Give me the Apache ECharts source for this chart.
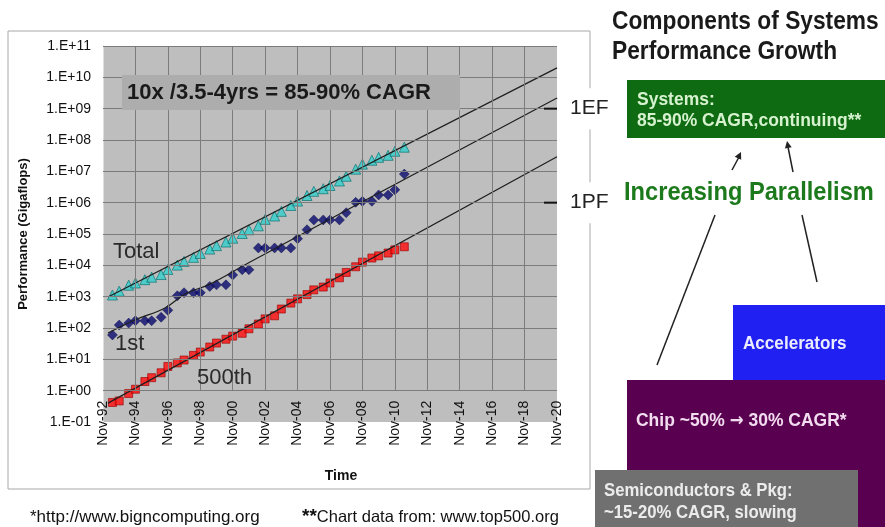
<!DOCTYPE html>
<html><head><meta charset="utf-8">
<script src="https://cdn.jsdelivr.net/npm/echarts@6/dist/echarts.min.js"></script>
<style>html,body{margin:0;padding:0;background:#fff;}#c{width:885px;height:527px;}</style>
</head><body><div id="c"></div>
<script>
// ---- data (TOP500 lists, Gigaflops) ----
const listDates = ['1993-06','1993-11','1994-06','1994-11','1995-06','1995-11','1996-06','1996-11','1997-06','1997-11','1998-06','1998-11','1999-06','1999-11','2000-06','2000-11','2001-06','2001-11','2002-06','2002-11','2003-06','2003-11','2004-06','2004-11','2005-06','2005-11','2006-06','2006-11','2007-06','2007-11','2008-06','2008-11','2009-06','2009-11','2010-06','2010-11','2011-06'];
const totalPerf = [1128,1493,2317,2732,3494,4190,5086,7397,10161,13371,17971,23922,33068,42548,55478,73476,103785,136138,182282,293000,375000,528000,813000,1127000,1690000,2300000,2790000,3540000,4920000,6970000,11700000,16950000,22600000,27950000,32400000,43700000,58900000];
const firstPerf = [59.7,124.2,143.4,170.4,170.4,170.4,220.4,368.2,1068,1338,1338,1338,2121,2379,2379,4938,7226,7226,35860,35860,35860,35860,35860,70720,136800,280600,280600,280600,280600,478200,1026000,1105000,1105000,1759000,1759000,2566000,8162000];
const lastPerf = [0.42,0.47,0.81,1.11,1.96,2.59,3.72,5.92,7.67,9.5,13.39,17.1,24.7,33.1,43.8,55.1,67.8,94.3,134.3,195.8,245.1,403.4,624,850.6,1166,1646,2026,2737,4005,5929,9000,12640,17090,20050,24670,31120,39100];
// trend lines: [years since Nov-92, Gflops]
const trendTotal = [[0.31, 980], [28, 2.0e10]];
const trendFirst = [[0.31, 69], [1.97, 180], [3.82, 437], [5.06, 1216], [6.6, 2520], [9.07, 12800], [28, 2.2e9]];
const trendLast = [[0.31, 0.40], [28, 2.9e7]];
const xTickLabels = ['Nov-92','Nov-94','Nov-96','Nov-98','Nov-00','Nov-02','Nov-04','Nov-06','Nov-08','Nov-10','Nov-12','Nov-14','Nov-16','Nov-18','Nov-20'];
const yTickLabels = ['1.E-01','1.E+00','1.E+01','1.E+02','1.E+03','1.E+04','1.E+05','1.E+06','1.E+07','1.E+08','1.E+09','1.E+10','1.E+11'];
const markerLevels = [['1EF', 1e9], ['1PF', 1e6]];

// ---- helpers ----
const FONT = 'Liberation Sans, Arial, sans-serif';
const startYear = 1992 + 10/12;
function toT(d){ const [y,m] = d.split('-').map(Number); return y + (m-1)/12 - startYear; }
const tVals = listDates.map(toT);
const pairs = arr => arr.map((v,i)=>[tVals[i], v]);
const yTickVals = yTickLabels.map(s => Number(s.replace('.E','e')));
const xMax = (xTickLabels.length-1)*2;

const gridTop = 46, gridBottomPx = 422, gridLeft = 103, gridRight = 557;
const decadePx = (gridBottomPx - gridTop) / (yTickLabels.length - 1);

const vLines = xTickLabels.slice(1, -1).map((_, i) => [{coord:[(i+1)*2, yTickVals[1]]}, {coord:[(i+1)*2, yTickVals[yTickVals.length-1]]}]);
const hLines = yTickVals.slice(1).map(v => [{coord:[0, v]}, {coord:[xMax, v]}]);

const chart = echarts.init(document.getElementById('c'));
const option = {
  animation: false,
  grid: {left: gridLeft, right: 885 - gridRight, top: gridTop, bottom: 527 - gridBottomPx,
         show: true, backgroundColor: '#bebebe', borderWidth: 0},
  xAxis: {
    type: 'value', min: 0, max: xMax, interval: 2, position: 'bottom', offset: -decadePx,
    axisLine: {show: false}, axisTick: {show: false}, splitLine: {show: false},
    axisLabel: {rotate: 90, margin: 10, fontSize: 14, color: '#111', fontFamily: FONT,
      formatter: v => xTickLabels[Math.round(v/2)]},
    name: 'Time', nameLocation: 'middle', nameGap: 78,
    nameTextStyle: {fontSize: 14, fontWeight: 'bold', color: '#111', fontFamily: FONT, padding: [0,0,0,22]}
  },
  yAxis: {
    type: 'log', logBase: 10, min: yTickVals[0], max: yTickVals[yTickVals.length-1], interval: 1, splitNumber: 12,
    axisLine: {show: true, lineStyle: {color: '#dedede', width: 1}}, axisTick: {show: false}, splitLine: {show: false},
    axisLabel: {fontSize: 14, margin: 12, color: '#111', fontFamily: FONT,
      formatter: v => yTickLabels[Math.round(Math.log10(v)) + 1]},
    name: 'Performance (Gigaflops)', nameLocation: 'middle', nameRotate: 90, nameGap: 73,
    nameTextStyle: {fontSize: 13, fontWeight: 'bold', color: '#111', fontFamily: FONT}
  },
  series: [
    {type: 'line', data: [], z: 1, silent: true,
     markLine: {silent: true, symbol: ['none','none'], label: {show: false}, animation: false,
       lineStyle: {color: '#7c7c7c', width: 1, type: 'solid'}, emphasis: {disabled: true},
       data: vLines.concat(hLines)}},
    {name: 'Total', type: 'scatter', data: pairs(totalPerf), symbol: 'triangle', symbolSize: 10, z: 3,
     itemStyle: {color: '#33d0cc', borderColor: '#006a6a', borderWidth: 0.8}},
    {name: '1st', type: 'scatter', data: pairs(firstPerf), symbol: 'diamond', symbolSize: 10, z: 3,
     itemStyle: {color: '#0a0a6e', borderColor: '#000040', borderWidth: 0.5}},
    {name: '500th', type: 'scatter', data: pairs(lastPerf), symbol: 'rect', symbolSize: 8, z: 3,
     itemStyle: {color: '#ff0a0a', borderColor: '#990000', borderWidth: 0.8}},
    {type: 'line', data: trendTotal, showSymbol: false, z: 4, lineStyle: {color: '#1e1e1e', width: 1.2}},
    {type: 'line', data: trendFirst, showSymbol: false, smooth: 0.4, z: 4, lineStyle: {color: '#1e1e1e', width: 1.2}},
    {type: 'line', data: trendLast, showSymbol: false, z: 4, lineStyle: {color: '#1e1e1e', width: 1.2}}
  ]
};
chart.setOption(option);

function txt(x, y, text, font, fill, extra){
  return Object.assign({type: 'text', x: x, y: y, z: 100,
    style: {text: text, font: font, fill: fill, textVerticalAlign: 'middle', verticalAlign: 'middle'}}, extra || {});
}
function line(x1,y1,x2,y2,w,c){ return {type:'line', z: 100, shape:{x1,y1,x2,y2}, style:{stroke:c||'#222', lineWidth:w||1.5}}; }

const g = [];
// outer frame
g.push({type: 'rect', z: 90, shape: {x: 8, y: 31, width: 582, height: 458}, style: {fill: 'none', stroke: '#a8a8a8', lineWidth: 1}});
// annotation box
g.push({type: 'rect', z: 100, shape: {x: 122, y: 75, width: 338, height: 35}, style: {fill: '#adadad'}});
g.push(txt(127, 93, '10x /3.5-4yrs = 85-90% CAGR', 'bold 22px ' + FONT, '#1a1a1a'));
g.push(txt(113, 252, 'Total', '22px ' + FONT, '#2a2a2a'));
g.push(txt(115, 344, '1st', '22px ' + FONT, '#2a2a2a'));
g.push(txt(197, 378, '500th', '22px ' + FONT, '#2a2a2a'));
// 1EF / 1PF
markerLevels.forEach(([lab, v]) => {
  const p = chart.convertToPixel({gridIndex: 0}, [xMax, v]);
  g.push(line(p[0]-13, p[1], p[0], p[1], 2, '#111'));
  g.push({type: 'text', x: 568, y: p[1], z: 100, style: {text: lab, font: '21px ' + FONT, fill: '#222',
    textVerticalAlign: 'middle', verticalAlign: 'middle', backgroundColor: '#fff', padding: [10, 2, 10, 2]}});
});
// right panel
g.push(txt(612, 22, 'Components of Systems', 'bold 25px ' + FONT, '#1a1a1a', {scaleX: 0.91}));
g.push(txt(612, 52, 'Performance Growth', 'bold 25px ' + FONT, '#1a1a1a', {scaleX: 0.91}));
g.push({type: 'rect', z: 95, shape: {x: 627, y: 80, width: 260, height: 58}, style: {fill: '#0f6b12'}});
g.push(txt(637, 100, 'Systems:', 'bold 19px ' + FONT, '#d6f2cf', {scaleX: 0.92}));
g.push(txt(637, 121, '85-90% CAGR,continuing**', 'bold 19px ' + FONT, '#d6f2cf', {scaleX: 0.92}));
g.push(txt(624, 193, 'Increasing Parallelism', 'bold 26px ' + FONT, '#1c7a1c', {scaleX: 0.91}));
g.push(line(732, 170, 739, 157, 1.5));
g.push({type: 'polygon', z: 100, shape: {points: [[741,152],[741.2,159.8],[734.7,156.7]]}, style: {fill: '#222'}});
g.push(line(793, 172, 788, 147, 1.5));
g.push({type: 'polygon', z: 100, shape: {points: [[787,141],[791.7,147.2],[784.9,148.5]]}, style: {fill: '#222'}});
g.push(line(715, 215, 657, 365, 1.5));
g.push(line(802, 215, 817, 282, 1.5));
g.push({type: 'rect', z: 95, shape: {x: 733, y: 305, width: 160, height: 75}, style: {fill: '#2020f2'}});
g.push(txt(743, 344, 'Accelerators', 'bold 19px ' + FONT, '#ececff', {scaleX: 0.9}));
g.push({type: 'rect', z: 95, shape: {x: 627, y: 380, width: 260, height: 150}, style: {fill: '#5a0050'}});
g.push({type: 'text', x: 636, y: 421, z: 100, scaleX: 0.92, style: {
  text: '{t|Chip ~50% }{r|\u2192}{t| 30% CAGR*}', textVerticalAlign: 'middle', verticalAlign: 'middle',
  rich: {t: {font: 'bold 19px ' + FONT, fill: '#f2dcef'}, r: {font: 'bold 18px DejaVu Sans, sans-serif', fill: '#f2dcef'}}}});
g.push({type: 'rect', z: 96, shape: {x: 595, y: 470, width: 263, height: 60}, style: {fill: '#707070'}});
g.push(txt(604, 491, 'Semiconductors & Pkg:', 'bold 19px ' + FONT, '#ececec', {scaleX: 0.88}));
g.push(txt(604, 513, '~15-20% CAGR, slowing', 'bold 19px ' + FONT, '#ececec', {scaleX: 0.88}));
// footnotes
g.push(txt(30, 517, '*http://www.bigncomputing.org', '17px ' + FONT, '#111'));
g.push({type: 'text', x: 302, y: 517, z: 100, style: {text: '{a|**}{b|Chart data from: www.top500.org}',
  textVerticalAlign: 'middle', verticalAlign: 'middle',
  rich: {a: {font: 'bold 19px ' + FONT, fill: '#111'}, b: {font: '16.5px ' + FONT, fill: '#111'}}}});
chart.setOption({graphic: g});
</script></body></html>
